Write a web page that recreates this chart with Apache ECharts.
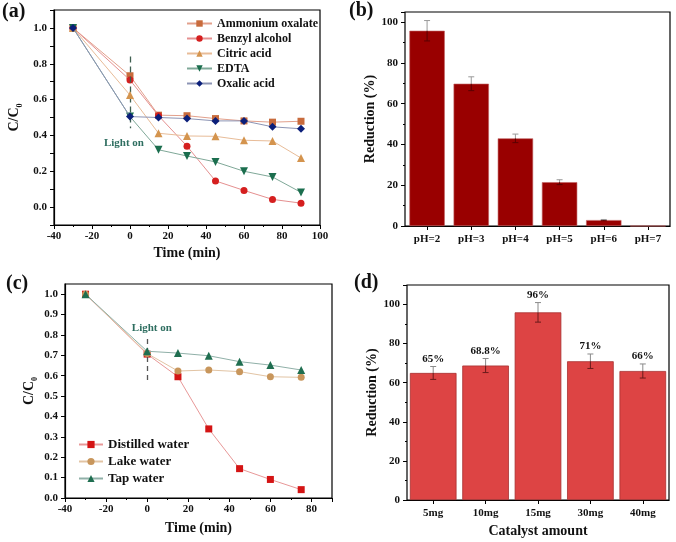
<!DOCTYPE html>
<html><head><meta charset="utf-8">
<script src="https://cdn.jsdelivr.net/npm/echarts@6/dist/echarts.min.js"></script>
<style>html,body{margin:0;padding:0;background:#fff}#c{width:676px;height:542px}</style>
</head><body><div id="c"></div>
<script>
// ---------- Data ----------
// Panel (a): scavenger tests
var timeA = [-30, 0, 15, 30, 45, 60, 75, 90];
var ammoniumOxalate = [1.0, 0.733, 0.513, 0.51, 0.494, 0.481, 0.474, 0.479];
var benzylAlcohol   = [1.0, 0.709, 0.51, 0.34, 0.146, 0.093, 0.043, 0.022];
var citricAcid      = [1.0, 0.625, 0.412, 0.397, 0.395, 0.373, 0.369, 0.274];
var edta            = [1.0, 0.505, 0.32, 0.285, 0.252, 0.2, 0.168, 0.082];
var oxalicAcid      = [1.0, 0.505, 0.5, 0.494, 0.481, 0.481, 0.448, 0.437];
var namesA = ['Ammonium oxalate', 'Benzyl alcohol', 'Citric acid', 'EDTA', 'Oxalic acid'];

// Panel (b): pH effect
var pHCats = ['pH=2', 'pH=3', 'pH=4', 'pH=5', 'pH=6', 'pH=7'];
var pHValues = [95.8, 69.8, 43, 21.5, 2.9, 0];
var pHErr = [5, 3.4, 2.1, 1.2, 0.3, 0];

// Panel (c): water matrices
var timeC = [-30, 0, 15, 30, 45, 60, 75];
var distilledWater = [1.0, 0.706, 0.595, 0.339, 0.144, 0.091, 0.041];
var lakeWater      = [1.0, 0.709, 0.623, 0.628, 0.62, 0.595, 0.592];
var tapWater       = [1.0, 0.72, 0.711, 0.698, 0.669, 0.652, 0.628];
var namesC = ['Distilled water', 'Lake water', 'Tap water'];

// Panel (d): catalyst amount
var catCats = ['5mg', '10mg', '15mg', '30mg', '40mg'];
var catValues = [65, 68.8, 96, 71, 66];
var catErr = [3.3, 3.6, 5, 3.7, 3.6];
var catLabels = ['65%', '68.8%', '96%', '71%', '66%'];

// ---------- Helpers ----------
var FONT = "'Liberation Serif','Times New Roman',serif";
function pairs(xs, ys){ return xs.map(function(x,i){ return [x, ys[i]]; }); }
function errData(vals, errs){ return vals.map(function(v,i){ return [i, v, v-errs[i], v+errs[i]]; }); }

function errRender(upColor, lowColor, capW, labels){
  return function(params, api){
    var i = api.value(0), v = api.value(1), lo = api.value(2), hi = api.value(3);
    if (hi - lo <= 0) return null;
    var pH = api.coord([i, hi]), pV = api.coord([i, v]), pL = api.coord([i, lo]);
    var ch = [
      {type:'line', shape:{x1:pH[0], y1:pH[1], x2:pV[0], y2:pV[1]}, style:{stroke:upColor, lineWidth:1}},
      {type:'line', shape:{x1:pV[0], y1:pV[1], x2:pL[0], y2:pL[1]}, style:{stroke:lowColor, lineWidth:1}},
      {type:'line', shape:{x1:pH[0]-capW, y1:pH[1], x2:pH[0]+capW, y2:pH[1]}, style:{stroke:upColor, lineWidth:1}},
      {type:'line', shape:{x1:pL[0]-capW, y1:pL[1], x2:pL[0]+capW, y2:pL[1]}, style:{stroke:lowColor, lineWidth:1}}
    ];
    if (labels) {
      ch.push({type:'text', x:pH[0], y:pH[1]-2, style:{text:labels[params.dataIndex], textAlign:'center', textVerticalAlign:'bottom', font:'bold 11px ' + FONT, fill:'#111'}});
    }
    return {type:'group', children: ch};
  };
}

var axisLineStyle = {onZero:false, lineStyle:{color:'#000', width:1.2}};
var tickStyle = {show:true, length:4, lineStyle:{color:'#000'}};
var lblStyle = {fontFamily:FONT, fontWeight:'bold', fontSize:11, color:'#111'};
var nameStyle = {fontFamily:FONT, fontWeight:'bold', fontSize:14, color:'#111'};
var ccName = {rich:{
  a:{fontFamily:FONT, fontWeight:'bold', fontSize:14, color:'#111', lineHeight:20, verticalAlign:'middle'},
  b:{fontFamily:FONT, fontWeight:'bold', fontSize:8, color:'#111', lineHeight:9, verticalAlign:'bottom'}
}};

var colA = {
  mk: ['#C86B3C', '#D51F1F', '#D4944E', '#1B6E4E', '#0B1F7A'],
  ln: ['#E2A08C', '#E59090', '#E8BC98', '#7FA898', '#8C94B4']
};
var symA = ['rect', 'circle', 'triangle', 'path://M0,0 L10,0 L5,9 Z', 'diamond'];
var symSizeA = [7, 7, 8, 8, 8];
var dataA = [ammoniumOxalate, benzylAlcohol, citricAcid, edta, oxalicAcid];

var colC = {
  mk: ['#D41414', '#C8965C', '#1F6E50'],
  ln: ['#E89898', '#E2C4A4', '#90B0A8']
};
var symC = ['rect', 'circle', 'triangle'];
var dataC = [distilledWater, lakeWater, tapWater];

var series = [];
dataA.forEach(function(d, k){
  var s = {
    name: namesA[k], type:'line', xAxisIndex:0, yAxisIndex:0,
    data: pairs(timeA, d), symbol: symA[k], symbolSize: symSizeA[k],
    lineStyle:{color: colA.ln[k], width:1}, itemStyle:{color: colA.mk[k]}, z: 3 + k,
    animation:false
  };
  if (k === 0) {
    s.markLine = {silent:true, symbol:'none', label:{show:false},
      lineStyle:{type:[6,4], color:'#3F5F50', width:1.3},
      data:[[{coord:[0, 0.84]}, {coord:[0, 0.44]}]]};
    s.markPoint = {silent:true, symbol:'circle', symbolSize:0,
      label:{show:true, formatter:'Light on', color:'#2E6E60', fontFamily:FONT, fontWeight:'bold', fontSize:11, position:'inside'},
      data:[{coord:[-3.2, 0.358]}]};
  }
  series.push(s);
});

series.push({type:'bar', xAxisIndex:1, yAxisIndex:1, data:pHValues, barCategoryGap:'20%',
  itemStyle:{color:'#990000', borderColor:'#C06060', borderWidth:0.6}, animation:false});
series.push({type:'custom', xAxisIndex:1, yAxisIndex:1, data:errData(pHValues, pHErr),
  encode:{x:0, y:[1,2,3]}, renderItem: errRender('#9A9A9A', '#5A0000', 3), z:10, animation:false});

dataC.forEach(function(d, k){
  var s = {
    name: namesC[k], type:'line', xAxisIndex:2, yAxisIndex:2,
    data: pairs(timeC, d), symbol: symC[k], symbolSize: k === 2 ? 8 : 7,
    lineStyle:{color: colC.ln[k], width:1}, itemStyle:{color: colC.mk[k]}, z: 3 + k,
    animation:false
  };
  if (k === 0) {
    s.markLine = {silent:true, symbol:'none', label:{show:false},
      lineStyle:{type:[5,4], color:'#555', width:1.3},
      data:[[{coord:[0, 0.78]}, {coord:[0, 0.56]}]]};
    s.markPoint = {silent:true, symbol:'circle', symbolSize:0,
      label:{show:true, formatter:'Light on', color:'#2E6E60', fontFamily:FONT, fontWeight:'bold', fontSize:11, position:'inside'},
      data:[{coord:[2.3, 0.835]}]};
  }
  series.push(s);
});

series.push({type:'bar', xAxisIndex:3, yAxisIndex:3, data:catValues, barCategoryGap:'11%',
  itemStyle:{color:'#DD4444', borderColor:'#A83030', borderWidth:0.8}, animation:false});
series.push({type:'custom', xAxisIndex:3, yAxisIndex:3, data:errData(catValues, catErr),
  encode:{x:0, y:[1,2,3]}, renderItem: errRender('#8A8A8A', '#6A1A1A', 3, catLabels), z:10, animation:false});

function panelLabel(t, x, y){
  return {type:'text', left:x, top:y, style:{text:t, font:'bold 20px ' + FONT, fill:'#111'}};
}

var option = {
  animation:false,
  backgroundColor:'#fff',
  graphic: [panelLabel('(a)', 2, 2), panelLabel('(b)', 349, 1), panelLabel('(c)', 6, 274), panelLabel('(d)', 354, 273)],
  legend: [
    {data: namesA, left:186, top:16, orient:'vertical', padding:0, itemWidth:25, itemHeight:8, itemGap:0,
     textStyle:{fontFamily:FONT, fontWeight:'bold', fontSize:12, color:'#111', lineHeight:15, height:15}},
    {data: namesC, left:78, top:436, orient:'vertical', padding:0, itemWidth:24, itemHeight:9, itemGap:0,
     textStyle:{fontFamily:FONT, fontWeight:'bold', fontSize:13, color:'#111', lineHeight:17, height:17}}
  ],
  grid: [
    {left:54, right:356, top:10, bottom:317, show:true, borderColor:'#000', borderWidth:1.2},
    {left:405, right:6, top:12, bottom:316, show:true, borderColor:'#000', borderWidth:1.2},
    {left:65, right:344, top:284, bottom:44, show:true, borderColor:'#000', borderWidth:1.2},
    {left:407, right:7, top:285, bottom:42, show:true, borderColor:'#000', borderWidth:1.2}
  ],
  xAxis: [
    {gridIndex:0, type:'value', min:-40, max:100, interval:20, axisLine:axisLineStyle, axisTick:tickStyle,
     minorTick:{show:true, splitNumber:2, length:2, lineStyle:{color:'#000'}},
     splitLine:{show:false}, axisLabel:Object.assign({margin:6}, lblStyle),
     name:'Time (min)', nameLocation:'middle', nameGap:21, nameTextStyle:nameStyle},
    {gridIndex:1, type:'category', data:pHCats, axisLine:axisLineStyle,
     axisTick:{show:true, alignWithLabel:true, length:4, lineStyle:{color:'#000'}},
     axisLabel:Object.assign({margin:8, interval:0}, lblStyle)},
    {gridIndex:2, type:'value', min:-40, max:90, interval:20, axisLine:axisLineStyle, axisTick:tickStyle,
     minorTick:{show:true, splitNumber:2, length:2, lineStyle:{color:'#000'}},
     splitLine:{show:false}, axisLabel:Object.assign({margin:6, showMaxLabel:false}, lblStyle),
     name:'Time (min)', nameLocation:'middle', nameGap:23, nameTextStyle:nameStyle},
    {gridIndex:3, type:'category', data:catCats, axisLine:axisLineStyle,
     axisTick:{show:true, alignWithLabel:true, length:4, lineStyle:{color:'#000'}},
     axisLabel:Object.assign({margin:8, interval:0}, lblStyle),
     name:'Catalyst amount', nameLocation:'middle', nameGap:24, nameTextStyle:nameStyle}
  ],
  yAxis: [
    {gridIndex:0, type:'value', min:-0.1, max:1.1, interval:0.1, axisLine:axisLineStyle, axisTick:tickStyle,
     splitLine:{show:false},
     axisLabel:Object.assign({margin:7, formatter:function(v){
       var t = Math.round(v*10); return (t >= 0 && t <= 10 && t % 2 === 0) ? (t/10).toFixed(1) : '';
     }}, lblStyle),
     name:'{a|C/C}{b|0}', nameLocation:'middle', nameGap:30, nameTextStyle:ccName},
    {gridIndex:1, type:'value', min:0, max:105, interval:20, axisLine:axisLineStyle, axisTick:tickStyle,
     minorTick:{show:true, splitNumber:2, length:2, lineStyle:{color:'#000'}},
     splitLine:{show:false}, axisLabel:Object.assign({margin:7, showMaxLabel:false}, lblStyle),
     name:'Reduction (%)', nameLocation:'middle', nameGap:27, nameTextStyle:nameStyle},
    {gridIndex:2, type:'value', min:0, max:1.05, interval:0.1, axisLine:axisLineStyle, axisTick:tickStyle,
     splitLine:{show:false},
     axisLabel:Object.assign({margin:7, showMaxLabel:false, formatter:function(v){ return v.toFixed(1); }}, lblStyle),
     name:'{a|C/C}{b|0}', nameLocation:'middle', nameGap:26, nameTextStyle:ccName},
    {gridIndex:3, type:'value', min:0, max:110, interval:20, axisLine:axisLineStyle, axisTick:tickStyle,
     minorTick:{show:true, splitNumber:2, length:2, lineStyle:{color:'#000'}},
     splitLine:{show:false}, axisLabel:Object.assign({margin:7, showMaxLabel:false}, lblStyle),
     name:'Reduction (%)', nameLocation:'middle', nameGap:28, nameTextStyle:nameStyle}
  ],
  series: series
};
var chart = echarts.init(document.getElementById('c'), null, {renderer:'canvas'});
chart.setOption(option);
</script>
</body></html>
